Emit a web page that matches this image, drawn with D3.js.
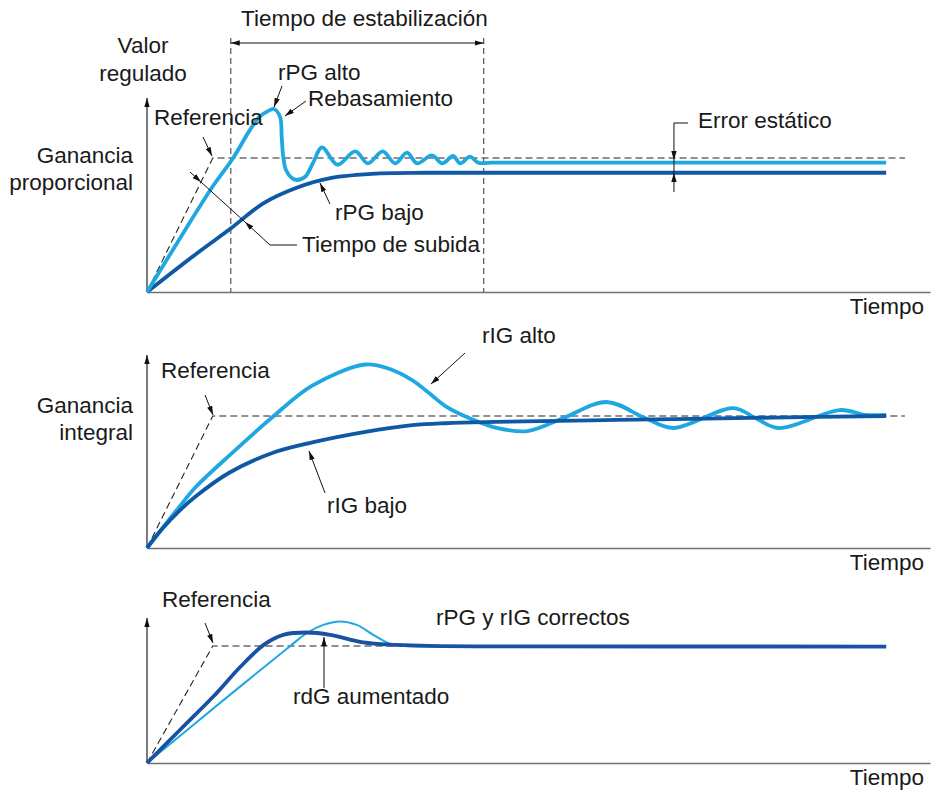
<!DOCTYPE html>
<html><head><meta charset="utf-8">
<script src="https://cdn.jsdelivr.net/npm/d3@7"></script>
<style>
body{margin:0;background:#fff;}
svg text{font-family:"Liberation Sans",Arial,Helvetica,sans-serif;font-size:22.5px;fill:#1a1a1a;}
</style></head><body>
<svg id="chart" width="932" height="796"></svg>
<script>
// ---------------- DATA (time units 0..100, value 1 = reference) ----------------
// Panel 1: proportional gain
const pgHighT = [0,4.1,8.3,11.0,13.15,14.4,15.45,16.2,17.0,17.2,17.4,17.75,18.5,19.1,20.2,21.2,22.35,24.3,26.6,28.2,30.1,31.7,33.2,34.5,36.4,37.7,39.1,40.0,41.25,42.3,44,94.4];
const pgHighV = [0,0.39,0.78,1.0,1.21,1.31,1.35,1.366,1.306,1.159,1.01,0.91,0.85,0.836,0.86,0.963,1.08,0.95,1.05,0.96,1.05,0.96,1.04,0.96,1.02,0.96,1.015,0.96,1.01,0.965,0.965,0.965];
const pgLowT  = [0,6.4,10.6,14.8,19.2,23.4,29.8,36,50,94.4];
const pgLowV  = [0,0.29,0.47,0.66,0.78,0.85,0.885,0.89,0.89,0.89];
// Panel 2: integral gain
const igHighT = [0,4.1,6.2,10.5,16.0,21.1,27.9,31.0,33.9,36.1,38.1,41.5,44.5,48.6,53.2,58.7,63.6,67.2,74.9,77.7,80.6,88.5,91.8,94.4];
const igHighV = [0,0.31,0.46,0.70,0.99,1.23,1.39,1.356,1.27,1.17,1.075,0.975,0.912,0.886,0.985,1.106,0.985,0.909,1.06,0.985,0.909,1.045,1.008,1.008];
const igLowT  = [0,2,4.1,6.2,10.5,16.0,21.1,27.9,33.9,38.1,44.5,60,80,94.4];
const igLowV  = [0,0.15,0.28,0.39,0.57,0.72,0.80,0.88,0.93,0.945,0.955,0.97,0.988,1.0];
// Panel 3: derivative gain
const dgLightT = [0,10,18.3,20.4,22.5,24.6,26.8,28.9,31,33,40,94.4];
const dgLightV = [0,0.55,1.0,1.11,1.18,1.21,1.18,1.095,1.02,1.0,0.997,0.995];
const dgDarkT  = [0,4.2,8.5,11.9,14.9,17.4,20.4,23.4,27.6,31.9,36,45,94.4];
const dgDarkV  = [0,0.282,0.57,0.82,1.009,1.095,1.115,1.095,1.03,1.009,1.0,0.997,0.995];
// Reference ramp and markers (time units)
const refT = [0, 8.4, 96.8];
const refV = [0, 1, 1];
const refT3 = [0, 8.4, 94.4];
const settleTimes = [10.7, 43.0];
const staticErrorT = 67.3;
// Texts
const xLabel = "Tiempo";
const refLabel = "Referencia";

// ---------------- LAYOUT ----------------
const svg = d3.select("#chart");
const LIGHT = "#1fa8e0", DARK = "#0e58a6", DARK3 = "#1a52a3";
const x = d3.scaleLinear().domain([0,100]).range([147,930]);
const layout = [
  {y0:292, yTop:98,  vMax:1.448},
  {y0:548, yTop:355, vMax:1.462},
  {y0:763, yTop:618, vMax:1.239}
];
const ys = layout.map(l => d3.scaleLinear().domain([0,l.vMax]).range([l.y0,l.yTop]));

const defs = svg.append("defs");
defs.append("marker").attr("id","ah").attr("viewBox","0 0 10 6")
  .attr("refX",10).attr("refY",3).attr("markerWidth",9).attr("markerHeight",5.5)
  .attr("markerUnits","userSpaceOnUse").attr("orient","auto-start-reverse")
  .append("path").attr("d","M0,0L10,3L0,6Z").attr("fill","#111");

const zip = (T,V) => T.map((t,i)=>[t,V[i]]);
function lineGen(y, curve){ return d3.line().x(d=>x(d[0])).y(d=>y(d[1])).curve(curve||d3.curveCatmullRom.alpha(0.5)); }

function arrow(x1,y1,x2,y2,w){
  svg.append("line").attr("x1",x1).attr("y1",y1).attr("x2",x2).attr("y2",y2)
    .attr("stroke","#111").attr("stroke-width",w||1).attr("marker-end","url(#ah)");
}
function seg(x1,y1,x2,y2){
  svg.append("line").attr("x1",x1).attr("y1",y1).attr("x2",x2).attr("y2",y2)
    .attr("stroke","#111").attr("stroke-width",1);
}
function label(t,xx,yy,anchor){
  svg.append("text").attr("x",xx).attr("y",yy).attr("text-anchor",anchor||"start").text(t);
}

// axes + reference for each panel
layout.forEach((l,i)=>{
  const y = ys[i];
  const gx = svg.append("g").attr("transform",`translate(0,${l.y0})`)
    .call(d3.axisBottom(x).tickValues([]).tickSizeOuter(0));
  gx.select(".domain").attr("stroke","#707070").attr("stroke-width",1.6);
  svg.append("line").attr("x1",x(0)).attr("y1",y(0)).attr("x2",x(0)).attr("y2",y(l.vMax))
    .attr("stroke","#333").attr("stroke-width",1.3).attr("marker-end","url(#ah)");
  label(xLabel, 924, l.y0+22, "end");
  const rt = i===2 ? refT3 : refT;
  svg.append("path").datum(zip(rt,refV)).attr("d",lineGen(y,d3.curveLinear))
    .attr("fill","none").attr("stroke","#222").attr("stroke-width",1.1).attr("stroke-dasharray","7,4");
});

// ---- Panel 1 ----
const y1 = ys[0];
settleTimes.forEach(t=>{
  svg.append("line").attr("x1",x(t)).attr("x2",x(t)).attr("y1",38).attr("y2",layout[0].y0)
    .attr("stroke","#555").attr("stroke-width",1.2).attr("stroke-dasharray","6,4");
});
svg.append("line").attr("x1",x(settleTimes[0])).attr("x2",x(settleTimes[1])).attr("y1",43).attr("y2",43)
  .attr("stroke","#111").attr("stroke-width",1).attr("marker-start","url(#ah)").attr("marker-end","url(#ah)");
label("Tiempo de estabilización", 241, 26);

svg.append("path").datum(zip(pgLowT,pgLowV)).attr("d",lineGen(y1))
  .attr("fill","none").attr("stroke",DARK).attr("stroke-width",3.8);
svg.append("path").datum(zip(pgHighT,pgHighV)).attr("d",lineGen(y1))
  .attr("fill","none").attr("stroke",LIGHT).attr("stroke-width",3.8);

label("Valor",143,53,"middle");
label("regulado",143,81,"middle");
label("Ganancia",133,163,"end");
label("proporcional",133,190,"end");
label(refLabel,154,125);
arrow(203,137,212,156);
label("rPG alto",278,80);
arrow(282,86,274,107);
label("Rebasamiento",308,106);
arrow(306,101,285,116);
label("rPG bajo",335,220);
arrow(330,204,320,183);
label("Tiempo de subida",302,252);
seg(297,245,270,245);
arrow(270,245,245,222);
seg(245,222,201,182);
arrow(190,172,201,182);
// static error
const xe = x(staticErrorT);
seg(xe+14,123,xe,123);
arrow(xe,123,xe,160);
seg(xe,160,xe,173);
arrow(xe,192,xe,173);
label("Error estático",698,128);

// ---- Panel 2 ----
const y2 = ys[1];
svg.append("path").datum(zip(igHighT,igHighV)).attr("d",lineGen(y2))
  .attr("fill","none").attr("stroke",LIGHT).attr("stroke-width",3.8);
svg.append("path").datum(zip(igLowT,igLowV)).attr("d",lineGen(y2))
  .attr("fill","none").attr("stroke",DARK).attr("stroke-width",3.8);
label("Ganancia",133,413,"end");
label("integral",133,440,"end");
label(refLabel,161,378);
arrow(205,395,213,415);
label("rIG alto",482,343);
arrow(465,353,431,384);
label("rIG bajo",327,513);
arrow(325,493,309,451);

// ---- Panel 3 ----
const y3 = ys[2];
svg.append("path").datum(zip(dgLightT,dgLightV)).attr("d",lineGen(y3))
  .attr("fill","none").attr("stroke",LIGHT).attr("stroke-width",2);
svg.append("path").datum(zip(dgDarkT,dgDarkV)).attr("d",lineGen(y3))
  .attr("fill","none").attr("stroke",DARK3).attr("stroke-width",3.8);
label(refLabel,162,607);
arrow(205,623,213,643);
label("rPG y rIG correctos",436,625);
label("rdG aumentado",293,704);
arrow(324,688,324,637);
</script>
</body></html>
